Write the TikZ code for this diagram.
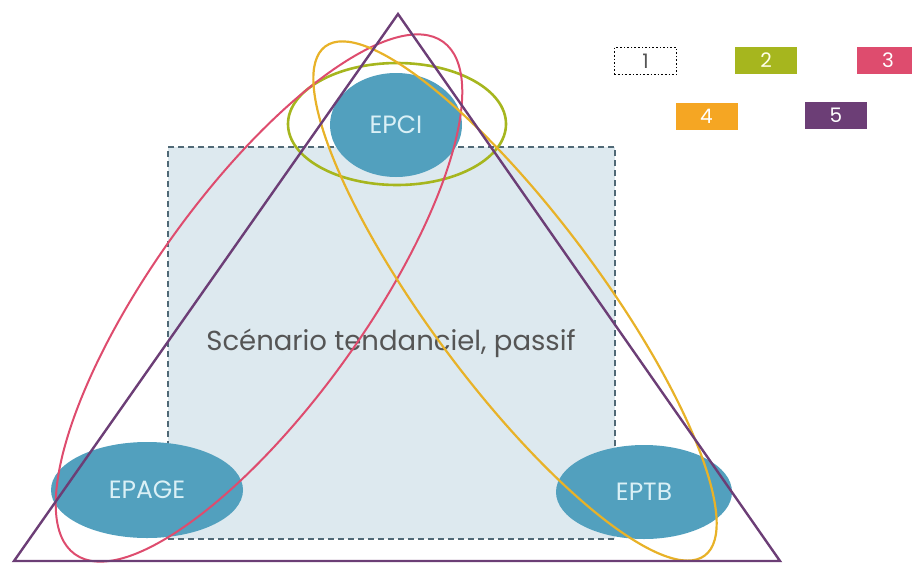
\documentclass[tikz,border=0pt]{standalone}
\usepackage{fontspec}
\setmainfont{Poppins}
\usetikzlibrary{shapes.geometric}
\definecolor{blobblue}{RGB}{82,160,190}
\definecolor{rectfill}{RGB}{221,233,239}
\definecolor{rectline}{RGB}{80,105,118}
\definecolor{lgreen}{RGB}{166,182,30}
\definecolor{lpink}{RGB}{222,76,110}
\definecolor{lyellow}{RGB}{232,178,40}
\definecolor{lorange}{RGB}{245,166,35}
\definecolor{lpurple}{RGB}{108,62,118}
\definecolor{blobtext}{RGB}{218,240,246}
\definecolor{maintext}{RGB}{85,85,85}
\tikzset{
  blob/.style={ellipse, fill=blobblue, inner sep=0pt, text=blobtext, font=\fontsize{25}{25}\selectfont},
  ring/.style={ellipse, draw, line width=2pt, inner sep=0pt},
  legbox/.style={minimum width=62pt, minimum height=27pt, inner sep=0pt, text=white, font=\fontsize{20}{20}\selectfont}
}
\begin{document}
\begin{tikzpicture}[x=1pt,y=-1pt]
\useasboundingbox (0,0) rectangle (912,565);
% scenario rectangle
\node[draw=rectline, fill=rectfill, dashed, line width=1.6pt, dash pattern=on 6pt off 4pt,
      minimum width=447pt, minimum height=392pt, inner sep=0pt] (scen) at (391.5,343) {};
\node[text=maintext, font=\fontsize{27.5}{27.5}\selectfont] (lbl) at (391,343) {Scénario tendanciel, passif};
% actors
\node[blob, minimum width=132pt, minimum height=104pt] (epci) at (396,125) {EPCI};
\node[blob, minimum width=192pt, minimum height=96pt] (epage) at (147,490) {EPAGE};
\node[blob, minimum width=176pt, minimum height=94pt] (eptb) at (644,492) {EPTB};
% groupings
\node[ring, draw=lgreen, line width=2.6pt, minimum width=218pt, minimum height=122pt] (g2) at (397,124) {};
\node[ring, draw=lpink, minimum width=631pt, minimum height=212pt, rotate=54.3] (g3) at (259,298) {};
\node[ring, draw=lyellow, line width=2.2pt, minimum width=635pt, minimum height=170pt, rotate=-53.3] (g4) at (515,301) {};
% triangle (5)
\coordinate (top) at (398,14);
\coordinate (bl) at (14,561);
\coordinate (br) at (780,561);
\draw[lpurple, line width=2.4pt, line join=miter] (top) -- (bl) -- (br) -- cycle;
% legend
\node[legbox, draw=black, dotted, line width=1.6pt, fill=white, text=maintext] (k1) at (645.5,61) {1};
\node[legbox, fill=lgreen, text=white!90!yellow] (k2) at (766,60) {2};
\node[legbox, fill=lpink] (k3) at (888,60) {3};
\node[legbox, fill=lorange] (k4) at (706.5,116.5) {4};
\node[legbox, fill=lpurple] (k5) at (836,115) {5};
\end{tikzpicture}
\end{document}
